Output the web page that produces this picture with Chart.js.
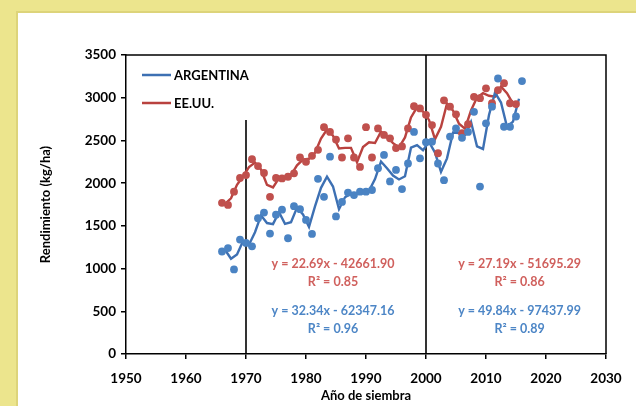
<!DOCTYPE html>
<html>
<head>
<meta charset="utf-8">
<style>
  html, body { margin: 0; padding: 0; }
  body { width: 636px; height: 406px; background: #ece58d; overflow: hidden; position: relative; }
  .panel {
    position: absolute; left: 16px; top: 11px; width: 640px; height: 420px;
    background: #fff; border-left: 2px solid #ddd47a; border-top: 2px solid #ddd47a;
    box-sizing: border-box;
  }
  #wrap { position: absolute; left: 0; top: 0; width: 636px; height: 406px; }
</style>
</head>
<body>
<div class="panel"></div>
<div id="wrap"><canvas id="myChart"></canvas></div>
<script src="https://cdn.jsdelivr.net/npm/chart.js"></script>

<script>
  // rendimiento anual (kg/ha)
  const argYears = [1966,1967,1968,1969,1970,1971,1972,1973,1974,1975,1976,1977,1978,1979,1980,1981,1982,1983,1984,1985,
    1986,1987,1988,1989,1990,1991,1992,1993,1994,1995,1996,1997,1998,1999,2000,2001,2002,2003,2004,2005,
    2006,2007,2008,2009,2010,2011,2012,2013,2014,2015,2016];
  const argYield = [1200,1240,990,1340,1300,1260,1590,1655,1410,1630,1690,1355,1730,1695,1570,1405,2050,1840,2310,1610,
    1780,1890,1860,1900,1900,1920,2175,2330,2020,2155,1930,2230,2600,2290,2480,2485,2230,2035,2545,2640,
    2530,2600,2835,1960,2700,2895,3225,2660,2660,2780,3195];

  const usaYears = [1966,1967,1968,1969,1970,1971,1972,1973,1974,1975,1976,1977,1978,1979,1980,1981,1982,1983,1984,1985,
    1986,1987,1988,1989,1990,1991,1992,1993,1994,1995,1996,1997,1998,1999,2000,2001,2002,2003,2004,2005,
    2006,2007,2008,2009,2010,2011,2012,2013,2014,2015];
  const usaYield = [1770,1745,1900,2060,2095,2280,2200,2120,1840,2060,2055,2075,2115,2300,2250,2320,2390,2655,2600,2510,
    2300,2525,2300,2190,2655,2300,2640,2565,2525,2410,2430,2640,2900,2875,2800,2680,2350,2970,2895,2805,
    2585,2690,3010,2995,3110,2935,3090,3170,2935,2925];

  // media movil (linea), un valor entre cada par de campañas
  const argTrend = [1220,1115,1165,1320,1280,1425,1623,1533,1520,1660,1523,1543,1713,1633,1488,1728,1945,2075,1960,1695,
    1835,1875,1880,1900,1910,2048,2253,2175,2088,2043,2080,2415,2445,2385,2483,2358,2133,2290,2593,2585,
    2565,2718,2430,2400,2798,3060,2943,2660,2720,2988];
  const usaTrend = [1758,1823,1980,2078,2188,2240,2160,1980,1950,2058,2065,2095,2208,2275,2285,2355,2523,2628,2555,2405,
    2413,2413,2245,2423,2478,2470,2603,2545,2468,2420,2535,2770,2888,2838,2740,2515,2660,2933,2850,2695,
    2638,2850,3003,3053,3023,3013,3130,3053,2930];

  // cortes de periodo
  const dividerYears = [1970, 2000];
  const dividerTops = [2740, 3500];

  const xTicks = [1950, 1960, 1970, 1980, 1990, 2000, 2010, 2020, 2030];
  const yTicks = [0, 500, 1000, 1500, 2000, 2500, 3000, 3500];

  const equations = [
    ['y = 22.69x - 42661.90', 'R² = 0.85', 'y = 32.34x - 62347.16', 'R² = 0.96'],
    ['y = 27.19x - 51695.29', 'R² = 0.86', 'y = 49.84x - 97437.99', 'R² = 0.89']
  ];

  const BLUE = '#4a83c3';
  const RED = '#c0504d';
  const BLUE_LINE = '#3d70b3';
  const RED_LINE = '#b9423f';
  const FONT = 'Lato';

  const pts = (xs, ys) => ys.map((v, i) => ({ x: xs[i], y: v }));
  const mid = (xs, n) => xs.slice(0, n).map(y => y + 0.5);

  const frameAndText = {
    id: 'frameAndText',
    afterDatasetsDraw(chart) {
      const { ctx, chartArea: a, scales: { x, y } } = chart;
      ctx.save();
      // marco superior y derecho
      ctx.strokeStyle = '#000';
      ctx.lineWidth = 1.5;
      ctx.beginPath();
      ctx.moveTo(a.left, a.top);
      ctx.lineTo(a.right, a.top);
      ctx.lineTo(a.right, a.bottom);
      ctx.stroke();

      // leyenda
      const items = [['ARGENTINA', BLUE_LINE], ['EE.UU.', RED_LINE]];
      ctx.font = 'bold 13px ' + FONT;
      ctx.textBaseline = 'middle';
      ctx.textAlign = 'left';
      items.forEach(([label, col], i) => {
        const ly = a.top + 20 + i * 28;
        ctx.strokeStyle = col;
        ctx.lineWidth = 2.5;
        ctx.beginPath();
        ctx.moveTo(a.left + 16, ly);
        ctx.lineTo(a.left + 45, ly);
        ctx.stroke();
        ctx.fillStyle = '#000';
        ctx.fillText(label, a.left + 48, ly + 1);
      });

      // ecuaciones de tendencia
      const centers = [1984.5, 2015.6];
      const levels = [1054, 843, 503, 293];
      const cols = [RED, RED, BLUE, BLUE];
      ctx.font = 'bold 12.5px ' + FONT;
      ctx.textAlign = 'center';
      equations.forEach((group, g) => {
        group.forEach((txt, k) => {
          ctx.fillStyle = cols[k] === RED ? '#d0605d' : '#4d86c6';
          ctx.fillText(txt, x.getPixelForValue(centers[g]), y.getPixelForValue(levels[k]));
        });
      });
      ctx.restore();
    }
  };

  const ctx = document.getElementById('myChart');
  Chart.defaults.font.family = FONT;
  new Chart(ctx, {
    type: 'scatter',
    data: {
      datasets: [
        {
          label: 'ARGENTINA',
          data: pts(argYears, argYield),
          backgroundColor: BLUE,
          borderWidth: 0,
          pointRadius: 3.9,
          order: 0
        },
        {
          label: 'EE.UU.',
          data: pts(usaYears, usaYield),
          backgroundColor: RED,
          borderWidth: 0,
          pointRadius: 3.9,
          order: 0
        },
        {
          type: 'line',
          label: 'ARGENTINA media',
          data: pts(mid(argYears, argTrend.length), argTrend),
          borderColor: BLUE_LINE,
          borderWidth: 2.4,
          pointRadius: 0,
          fill: false,
          order: 1
        },
        {
          type: 'line',
          label: 'EE.UU. media',
          data: pts(mid(usaYears, usaTrend.length), usaTrend),
          borderColor: RED_LINE,
          borderWidth: 2.4,
          pointRadius: 0,
          fill: false,
          order: 1
        },
        ...dividerYears.map((yr, i) => ({
          type: 'line',
          label: 'corte ' + yr,
          data: [{ x: yr, y: 0 }, { x: yr, y: dividerTops[i] }],
          borderColor: '#000',
          borderWidth: 1.6,
          pointRadius: 0,
          order: 2
        }))
      ]
    },
    options: {
      responsive: true,
      maintainAspectRatio: false,
      animation: false,
      layout: { padding: { left: 36, top: 55, right: 30, bottom: 0 } },
      plugins: {
        legend: { display: false },
        tooltip: { enabled: false }
      },
      scales: {
        x: {
          type: 'linear',
          min: xTicks[0],
          max: xTicks[xTicks.length - 1],
          afterBuildTicks: s => { s.ticks = xTicks.map(v => ({ value: v })); },
          afterFit: s => { s.height = 52; },
          border: { color: '#000', width: 1.5 },
          grid: { drawOnChartArea: false, color: '#000', tickLength: 5, lineWidth: 1.5 },
          ticks: {
            color: '#000',
            font: { size: 13.5, weight: 'bold' },
            padding: 12,
            maxRotation: 0,
            callback: v => String(v)
          },
          title: {
            display: true,
            text: 'Año de siembra',
            color: '#000',
            font: { size: 13, weight: 'bold' },
            padding: { top: 0, bottom: 2 }
          }
        },
        y: {
          min: yTicks[0],
          max: yTicks[yTicks.length - 1],
          afterBuildTicks: s => { s.ticks = yTicks.map(v => ({ value: v })); },
          afterFit: s => { s.width = 90; },
          border: { color: '#000', width: 1.5 },
          grid: { drawOnChartArea: false, color: '#000', tickLength: 5, lineWidth: 1.5 },
          ticks: {
            color: '#000',
            font: { size: 13.5, weight: 'bold' },
            padding: 5,
            callback: v => String(v)
          },
          title: {
            display: true,
            text: 'Rendimiento (kg/ha)',
            color: '#000',
            font: { size: 13, weight: 'bold' },
            padding: { top: 2, bottom: 0 }
          }
        }
      }
    },
    plugins: [frameAndText]
  });
</script>
</body>
</html>
